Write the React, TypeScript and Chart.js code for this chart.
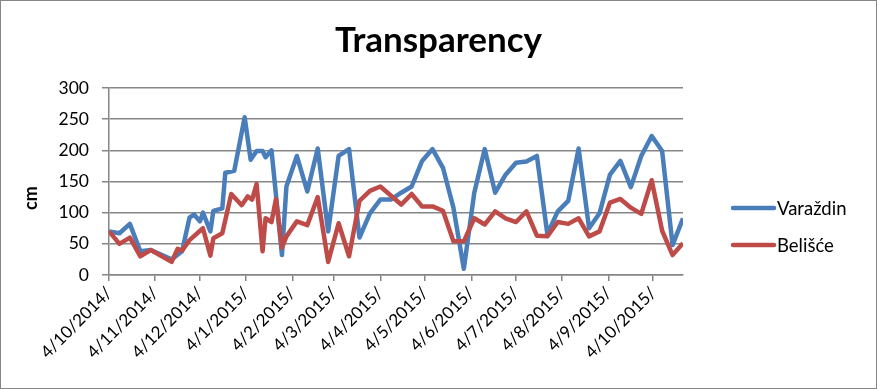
import React, { useEffect, useRef } from "react";
import { Chart, registerables } from "chart.js";

Chart.register(...registerables);

const sampleDates = [
  "2014-10-04", "2014-10-11", "2014-10-18", "2014-10-25", "2014-11-01", "2014-11-15", "2014-11-19", "2014-11-22",
  "2014-11-27", "2014-11-30", "2014-12-04", "2014-12-06", "2014-12-11", "2014-12-13", "2014-12-19", "2014-12-21",
  "2014-12-25", "2014-12-27", "2015-01-01", "2015-01-03", "2015-01-05", "2015-01-07", "2015-01-08", "2015-01-11",
  "2015-01-15", "2015-01-17", "2015-01-21", "2015-01-24", "2015-01-28", "2015-01-31", "2015-02-07", "2015-02-14",
  "2015-02-21", "2015-02-28", "2015-03-07", "2015-03-14", "2015-03-21", "2015-03-28", "2015-04-04", "2015-04-11",
  "2015-04-18", "2015-04-25", "2015-05-02", "2015-05-09", "2015-05-16", "2015-05-23", "2015-05-30", "2015-06-06",
  "2015-06-13", "2015-06-20", "2015-06-27", "2015-07-04", "2015-07-11", "2015-07-18", "2015-07-25", "2015-08-01",
  "2015-08-08", "2015-08-15", "2015-08-22", "2015-08-29", "2015-09-05", "2015-09-12", "2015-09-19", "2015-09-26",
  "2015-10-03", "2015-10-10", "2015-10-17", "2015-10-24",
];

const varazdin: (number | null)[] = [
  70, 67, 82, 38, 40, 25, null, 38,
  92, 97, 86, 100, 70, 103, 107, 164,
  null, 167, null, 253, null, 185, null, 199,
  199, 189, 200, null, 32, 142, 191, 134,
  203, 70, 191, 202, 60, 99, 121, 121,
  132, 142, 183, 202, 172, 108, 10, 132,
  202, 132, 161, 180, 182, 191, 66, 102,
  119, 203, 75, 99, 161, 183, 141, 191,
  223, 199, 48, 91,
];

const belisce: (number | null)[] = [
  70, 50, 60, 30, 40, 21, 42, 39,
  56, null, null, 75, 31, 59, 67, null,
  130, null, 112, null, 126, null, 121, 146,
  38, 91, 85, 122, 44, 62, 86, 80,
  125, 21, 83, 30, 119, 135, 142, null,
  113, 130, 110, 110, 103, 54, 54, 91,
  81, 102, 91, 85, 102, 63, 62, 85,
  82, 91, 62, 70, 116, 122, 108, 98,
  152, 71, 32, 51,
];

const tickLabels = [
  "4/10/2014/", "4/11/2014/", "4/12/2014/", "4/1/2015/", "4/2/2015/", "4/3/2015/", "4/4/2015/",
  "4/5/2015/", "4/6/2015/", "4/7/2015/", "4/8/2015/", "4/9/2015/", "4/10/2015/",
];

const seriesNames = ["Varaždin", "Belišće"];
const seriesColors = ["#4A7EBB", "#BE4B48"];
const titleText = "Transparency";
const yTitleText = "cm";

const FONT = "Lato, 'Open Sans', sans-serif";
const GRID = "#868686";
const DAY_MS = 86400000;

const isoToUTC = (iso: string) => {
  const [y, m, d] = iso.split("-").map(Number);
  return Date.UTC(y, m - 1, d);
};
const originMs = isoToUTC(sampleDates[0]);
const dayOfIso = (iso: string) => Math.round((isoToUTC(iso) - originMs) / DAY_MS);
const dayOfLabel = (lbl: string) => {
  const [d, m, y] = lbl.split("/").filter((s) => s.length).map(Number);
  return Math.round((Date.UTC(y, m - 1, d) - originMs) / DAY_MS);
};

const sampleDays = sampleDates.map(dayOfIso);
const tickDays = tickLabels.map(dayOfLabel);

const borderPlugin = {
  id: "chartBorder",
  afterDraw(chart: any) {
    const ctx = chart.ctx;
    ctx.save();
    ctx.strokeStyle = GRID;
    ctx.lineWidth = 1;
    ctx.strokeRect(0.5, 0.5, chart.width - 1, chart.height - 1);
    ctx.restore();
  },
};

const sideTextPlugin = {
  id: "sideText",
  afterDraw(chart: any) {
    const ctx = chart.ctx;

    // chart title, centred on the whole chart
    ctx.save();
    ctx.fillStyle = "#000";
    ctx.font = `bold 35px ${FONT}`;
    ctx.textAlign = "center";
    ctx.textBaseline = "alphabetic";
    ctx.fillText(titleText, chart.width / 2, 52);
    ctx.restore();

    // y axis title
    ctx.save();
    ctx.fillStyle = "#000";
    ctx.font = `bold 18px ${FONT}`;
    ctx.textAlign = "center";
    ctx.textBaseline = "middle";
    ctx.translate(31, 198);
    ctx.rotate(-Math.PI / 2);
    ctx.fillText(yTitleText, 0, 0);
    ctx.restore();

    // legend
    const rows = [208, 245];
    chart.data.datasets.forEach((ds: any, i: number) => {
      const y = rows[i];
      ctx.save();
      ctx.strokeStyle = ds.borderColor;
      ctx.lineWidth = 4.5;
      ctx.lineCap = "round";
      ctx.beginPath();
      ctx.moveTo(733, y);
      ctx.lineTo(774, y);
      ctx.stroke();
      ctx.fillStyle = "#000";
      ctx.font = `18.5px ${FONT}`;
      ctx.textAlign = "left";
      ctx.textBaseline = "middle";
      ctx.fillText(ds.label, 777, y + 1);
      ctx.restore();
    });
  },
};

export default function App() {
  const canvasRef = useRef<HTMLCanvasElement | null>(null);

  useEffect(() => {
    document.body.style.margin = "0";
    const canvas = canvasRef.current;
    if (!canvas) return;

    const toPoints = (vals: (number | null)[]) =>
      vals.map((v, i) => ({ x: sampleDays[i], y: v }));

    const chart = new Chart(canvas, {
      type: "line",
      data: {
        datasets: [
          {
            label: seriesNames[0],
            data: toPoints(varazdin),
            borderColor: seriesColors[0],
            backgroundColor: seriesColors[0],
            borderWidth: 4.5,
            pointRadius: 0,
            tension: 0,
            spanGaps: true,
            borderJoinStyle: "round",
            order: 1,
          },
          {
            label: seriesNames[1],
            data: toPoints(belisce),
            borderColor: seriesColors[1],
            backgroundColor: seriesColors[1],
            borderWidth: 4.5,
            pointRadius: 0,
            tension: 0,
            spanGaps: true,
            borderJoinStyle: "round",
            order: 0,
          },
        ],
      },
      options: {
        animation: false,
        responsive: false,
        maintainAspectRatio: false,
        layout: { padding: { top: 88, left: 0, right: 194, bottom: 0 } },
        plugins: {
          legend: { display: false },
          tooltip: { enabled: false },
          title: { display: false },
        },
        scales: {
          x: {
            type: "linear",
            min: sampleDays[0],
            max: sampleDays[sampleDays.length - 1],
            afterBuildTicks: (scale: any) => {
              scale.ticks = tickDays.map((v) => ({ value: v }));
            },
            afterFit: (scale: any) => {
              scale.height = 114;
            },
            grid: {
              drawOnChartArea: false,
              drawTicks: true,
              tickLength: 6,
              color: GRID,
              lineWidth: 1.5,
            },
            border: { color: GRID, width: 1.5 },
            ticks: {
              autoSkip: false,
              minRotation: 45,
              maxRotation: 45,
              color: "#000",
              padding: 2,
              font: { family: FONT, size: 17 },
              callback: (value: any) => {
                const idx = tickDays.indexOf(Number(value));
                return idx >= 0 ? tickLabels[idx] : "";
              },
            },
          },
          y: {
            min: 0,
            max: 300,
            afterFit: (scale: any) => {
              scale.width = 109;
            },
            grid: {
              color: GRID,
              lineWidth: 1.5,
              drawTicks: true,
              tickLength: 7,
            },
            border: { color: GRID, width: 1.5 },
            ticks: {
              stepSize: 50,
              color: "#000",
              padding: 13,
              font: { family: FONT, size: 17.5 },
            },
          },
        },
      },
      plugins: [borderPlugin, sideTextPlugin],
    } as any);

    return () => chart.destroy();
  }, []);

  return (
    <div style={{ width: 877, height: 389 }}>
      <canvas ref={canvasRef} width={877} height={389} style={{ display: "block", width: 877, height: 389 }} />
    </div>
  );
}
